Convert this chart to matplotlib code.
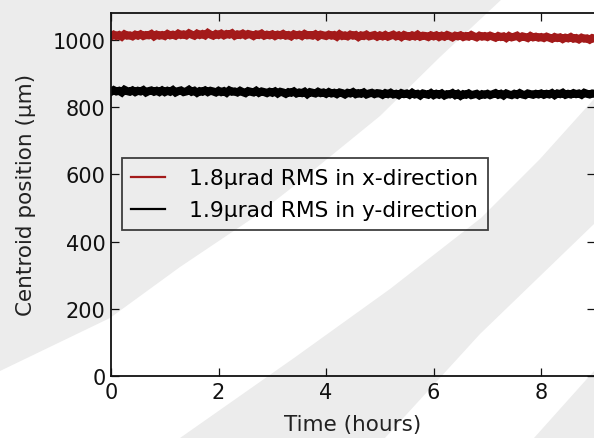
import matplotlib
matplotlib.use("Agg")
import matplotlib.pyplot as plt
from matplotlib.patches import Polygon

# ---- data ----
time_hours = [round(i * 0.05, 2) for i in range(181)]

x_centroid = [
    1011,1016,1012,1015,1010,1017,1013,1014,1011,1016,1013,1017,1012,1015,1014,1018,1011,1016,1013,1015,
    1012,1018,1014,1016,1013,1019,1015,1017,1014,1020,1016,1013,1019,1015,1018,1014,1021,1016,1013,1018,
    1015,1019,1014,1018,1016,1020,1013,1017,1015,1019,1014,1018,1016,1012,1017,1015,1019,1013,1016,1014,
    1017,1012,1016,1014,1018,1013,1015,1011,1017,1014,1016,1012,1018,1014,1015,1013,1017,1011,1016,1014,
    1012,1016,1013,1015,1010,1017,1012,1014,1011,1016,1013,1015,1009,1014,1012,1016,1011,1013,1015,1010,
    1014,1011,1015,1010,1013,1016,1011,1014,1009,1015,1012,1010,1014,1011,1016,1010,1013,1012,1009,1014,
    1011,1014,1009,1013,1010,1015,1012,1008,1013,1011,1014,1009,1012,1010,1015,1011,1008,1013,1010,1012,
    1009,1013,1010,1007,1012,1009,1011,1006,1012,1008,1010,1013,1007,1011,1009,1006,1012,1008,1010,1007,
    1009,1006,1010,1007,1004,1009,1006,1008,1003,1007,1005,1009,1004,1006,1002,1007,1004,1005,1001,1006,
    1004,
]

y_centroid = [
    846,851,847,849,844,852,848,846,850,845,849,847,851,844,848,850,846,849,845,850,
    845,849,846,851,844,848,850,845,847,852,846,849,843,848,846,850,845,849,847,844,
    849,845,848,843,850,846,847,844,849,845,842,848,846,844,849,843,847,845,842,846,
    843,847,841,846,844,840,845,843,847,841,844,842,846,839,845,843,841,846,842,844,
    840,845,841,843,839,844,842,838,843,841,845,839,842,840,844,838,841,843,839,842,
    841,837,842,839,843,838,840,836,842,839,841,837,843,838,840,835,841,839,837,842,
    836,840,837,841,835,839,838,842,836,840,834,839,837,841,836,838,840,835,839,837,
    840,836,839,842,837,840,835,841,838,836,840,837,842,838,836,841,839,837,840,838,
    841,837,840,838,842,836,841,839,843,837,840,838,842,839,841,837,843,840,838,841,
    840,
]

series_labels = ["1.8\u00b5rad RMS in x-direction", "1.9\u00b5rad RMS in y-direction"]
series_colors = ["#a31a1a", "#000000"]
x_ticks = [0, 2, 4, 6, 8]
y_ticks = [0, 200, 400, 600, 800, 1000]

W, H = 594, 439
fig = plt.figure(figsize=(W / 100, H / 100), dpi=100)
fig.patch.set_facecolor("white")

# decorative background stripes (pixel coords -> figure fraction)
grey = "#ececec"
def px(pts):
    return [(x / W, 1 - y / H) for x, y in pts]
bg_shapes = [
    [(0, 0), (502, 0), (440, 58), (380, 117), (294, 187), (253, 219), (180, 268), (110, 319), (0, 372)],
    [(594, 100), (540, 160), (481, 219), (390, 290), (294, 359), (180, 439), (385, 439), (480, 335), (594, 225)],
    [(534, 439), (594, 372), (594, 439)],
]
for shp in bg_shapes:
    fig.add_artist(Polygon(px(shp), closed=True, facecolor=grey, edgecolor="none",
                           transform=fig.transFigure, zorder=-10))

ax = fig.add_axes([111 / W, (H - 377) / H, (595 - 111) / W, (377 - 13.5) / H])
ax.set_facecolor("none")

for vals, lab, col in zip([x_centroid, y_centroid], series_labels, series_colors):
    ax.plot(time_hours, vals, color=col, lw=5.8, label=lab, solid_joinstyle="miter")

ax.set_xlim(0, 9)
ax.set_ylim(0, 1082)
ax.set_xticks(x_ticks)
ax.set_yticks(y_ticks)
ax.tick_params(direction="in", length=6, width=0.9, top=True, right=True,
               labelsize=15, pad=4, colors="#111111")
for s in ax.spines.values():
    s.set_linewidth(1.3)
    s.set_color("#111111")

ax.set_xlabel("Time (hours)", fontsize=15.5, color="#222222", labelpad=9)
ax.set_ylabel("Centroid position (\u00b5m)", fontsize=15.5, color="#222222", labelpad=12)

leg = ax.legend(loc="center left", bbox_to_anchor=(0.022, 0.5), fontsize=15.7,
                frameon=True, fancybox=False, handlelength=1.55, handletextpad=1.1,
                borderpad=0.45, labelspacing=0.55, borderaxespad=0.0)
fr = leg.get_frame()
fr.set_facecolor("none")
fr.set_edgecolor("#111111")
fr.set_linewidth(1.3)
for l in leg.get_lines():
    l.set_linewidth(1.6)

fig.savefig("out.png", dpi=100)
